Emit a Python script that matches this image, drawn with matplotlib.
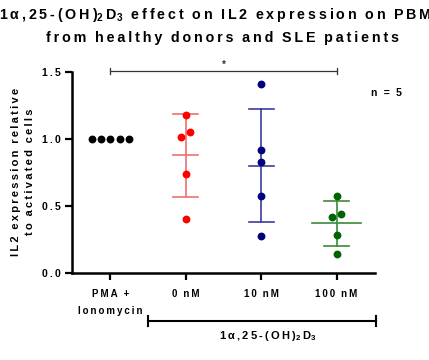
import numpy as np
import matplotlib
matplotlib.use("Agg")
import matplotlib.pyplot as plt

plt.rcParams["font.family"] = ["Liberation Sans", "DejaVu Sans"]
plt.rcParams["font.weight"] = "bold"
plt.rcParams["mathtext.fontset"] = "custom"
plt.rcParams["mathtext.rm"] = "Liberation Sans:bold"
plt.rcParams["mathtext.it"] = "Liberation Sans:bold"
plt.rcParams["mathtext.default"] = "regular"

# data
groups = ["PMA +\nIonomycin", "0 nM", "10 nM", "100 nM"]
colors = ["#000000", "#ff0000", "#00007f", "#006400"]
bar_colors = [None, "#f07070", "#3c3ca0", "#3c8a3c"]
pma_vals = [1.0, 1.0, 1.0, 1.0, 1.0]
nm0_vals = [1.177, 1.048, 1.013, 0.734, 0.40]
nm10_vals = [1.406, 0.916, 0.829, 0.570, 0.276]
nm100_vals = [0.572, 0.44, 0.413, 0.279, 0.137]
offsets = [
    [-0.24, -0.12, 0.0, 0.12, 0.24],
    [0.0, 0.057, -0.066, 0.0, 0.0],
    [0.0, 0.0, 0.0, 0.0, 0.0],
    [0.0, 0.066, -0.058, 0.0, 0.0],
]
mean_half = [0, 0.165, 0.165, 0.33]


def spaced(s):
    # GraphPad-style letter spacing
    return "\u2009".join(s).replace("\u2009 \u2009", "\u2009\u2009\u2009")


fig = plt.figure(figsize=(4.29, 3.6), dpi=100)
ax = fig.add_axes([0.168, 0.2425, 0.706, 0.5585])

all_vals = [pma_vals, nm0_vals, nm10_vals, nm100_vals]
for i, vals in enumerate(all_vals):
    vals = np.array(vals)
    xs = i + np.array(offsets[i])
    if i > 0:
        m, sd = vals.mean(), vals.std(ddof=1)
        c = bar_colors[i]
        ax.plot([i - mean_half[i], i + mean_half[i]], [m, m], color=c, lw=1.2, zorder=2)
        ax.plot([i, i], [m - sd, m + sd], color=c, lw=1.2, zorder=2)
        for y in (m - sd, m + sd):
            ax.plot([i - 0.165, i + 0.165], [y, y], color=c, lw=1.2, zorder=2)
    ax.scatter(xs, vals, s=32, color=colors[i], zorder=3, linewidths=0)

# significance bracket
ax.plot([0, 3], [1.505, 1.505], color="#333333", lw=0.9, clip_on=False)
for x in (0, 3):
    ax.plot([x, x], [1.48, 1.53], color="#333333", lw=0.9, clip_on=False)
ax.text(1.5, 1.515, "*", ha="center", va="bottom", fontsize=7, color="#333333")

ax.set_xlim(-0.51, 3.51)
ax.set_ylim(0, 1.5)
ax.set_yticks([0, 0.5, 1.0, 1.5])
ax.set_yticklabels([spaced(t) for t in ["0.0", "0.5", "1.0", "1.5"]], fontsize=7.5, fontweight="bold")
ax.set_xticks(range(4))
ax.set_xticklabels([spaced(g.split("\n")[0]) + ("\n" + spaced(g.split("\n")[1]) if "\n" in g else "")
                    for g in groups], fontsize=7, fontweight="bold", linespacing=1.8)
ax.tick_params(width=1.6, length=5, pad=3)
ax.tick_params(axis="x", pad=7)
for side in ("top", "right"):
    ax.spines[side].set_visible(False)
for side in ("left", "bottom"):
    ax.spines[side].set_linewidth(1.8)

ax.set_ylabel(spaced("IL2 expression relative") + "\n" + spaced("to activated cells"),
              fontsize=8, fontweight="bold", labelpad=5, linespacing=1.5)

fig.text(371 / 429, 1 - 93 / 360, spaced("n = 5"), fontsize=7.5, fontweight="bold",
         ha="left", va="center")

# dose bracket under the axis
fig.add_artist(plt.Line2D([148 / 429, 376 / 429], [1 - 321 / 360] * 2, color="black", lw=1.5))
for x in (148, 376):
    fig.add_artist(plt.Line2D([x / 429] * 2, [1 - 316 / 360, 1 - 326 / 360], color="black", lw=1.5))
fig.text(268 / 429, 1 - 336 / 360, spaced("1α,25-(OH)") + "$_2$" + "\u2009D$_3$",
         fontsize=8, fontweight="bold", ha="center", va="center")

fig.text(222 / 429, 1 - 15 / 360,
         spaced("1α,25-(OH)") + "$_2$" + "\u2009D$_3$\u2009\u2009\u2009"
         + spaced("effect on IL2 expression on PBMC"),
         fontsize=10.3, fontweight="bold", ha="center", va="center")
fig.text(222 / 429, 1 - 38 / 360, spaced("from healthy donors and SLE patients"),
         fontsize=10.3, fontweight="bold", ha="center", va="center")

fig.savefig("out.png", dpi=100)
